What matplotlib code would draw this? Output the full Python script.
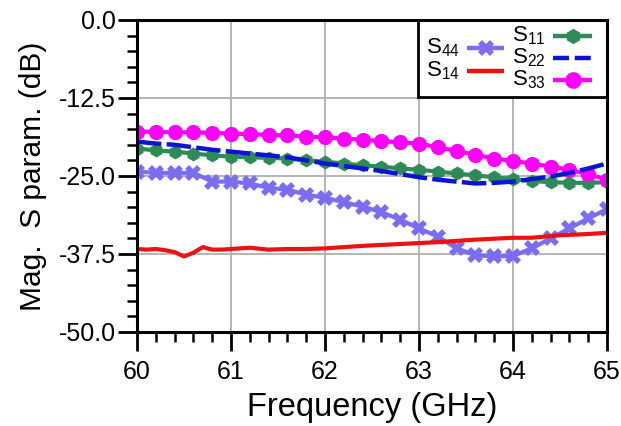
import numpy as np
import matplotlib
matplotlib.use("Agg")
import matplotlib.pyplot as plt
from matplotlib.ticker import MultipleLocator
from matplotlib.patches import Rectangle

plt.rcParams['font.family'] = ['Liberation Sans', 'DejaVu Sans']
plt.rcParams['mathtext.fontset'] = 'custom'
plt.rcParams['mathtext.rm'] = 'Liberation Sans'
plt.rcParams['mathtext.default'] = 'regular'

# frequency grid (GHz) for the marked traces
freq = [60.0, 60.2, 60.4, 60.6, 60.8, 61.0, 61.2, 61.4, 61.6, 61.8,
        62.0, 62.2, 62.4, 62.6, 62.8, 63.0, 63.2, 63.4, 63.6, 63.8,
        64.0, 64.2, 64.4, 64.6, 64.8, 65.0]

s33 = [-17.9, -17.9, -18.0, -18.0, -18.1, -18.2, -18.3, -18.4, -18.5, -18.7,
       -18.8, -19.0, -19.2, -19.4, -19.6, -19.8, -20.4, -21.0, -21.6, -22.2,
       -22.6, -23.0, -23.5, -24.0, -24.7, -25.6]
s22 = [-19.5, -19.8, -20.0, -20.4, -20.8, -21.1, -21.4, -21.7, -22.0, -22.5,
       -23.0, -23.4, -23.8, -24.2, -24.7, -25.2, -25.6, -25.9, -26.2, -26.1,
       -25.9, -25.5, -25.1, -24.5, -23.8, -23.0]
s11 = [-20.6, -20.9, -21.1, -21.4, -21.7, -21.9, -22.0, -22.1, -22.2, -22.5,
       -22.7, -23.0, -23.3, -23.5, -23.8, -24.0, -24.3, -24.6, -24.9, -25.2,
       -25.5, -25.8, -26.0, -26.1, -26.1, -26.0]
s44 = [-24.3, -24.5, -24.5, -24.5, -25.9, -25.9, -26.2, -26.9, -27.2, -28.0,
       -28.5, -29.2, -29.9, -30.8, -32.0, -33.4, -34.7, -36.6, -37.7, -37.9,
       -37.8, -36.6, -35.0, -33.4, -31.8, -30.3]

# S14 has its own (denser) sampling near 60 GHz
freq14 = [60.0, 60.1, 60.2, 60.3, 60.4, 60.5, 60.6, 60.7, 60.8, 60.9,
          61.0, 61.2, 61.4, 61.6, 61.8, 62.0, 62.4, 62.8, 63.2, 63.6,
          64.0, 64.2, 64.5, 64.8, 65.0]
s14 = [-36.7, -36.8, -36.7, -36.9, -37.2, -37.9, -37.3, -36.4, -36.8, -36.8,
       -36.7, -36.5, -36.8, -36.7, -36.7, -36.6, -36.2, -35.9, -35.6, -35.2,
       -34.9, -34.9, -34.5, -34.3, -34.1]

# trace styles: label, colour, marker, marker size, linestyle
styles = {
    's44': ('S$_{44}$', '#7b6cf0', 'X', 11, '-'),
    's14': ('S$_{14}$', '#ee1111', None, 0, '-'),
    's11': ('S$_{11}$', '#2e8b57', 'h', 10, '-'),
    's22': ('S$_{22}$', '#0a14d2', None, 0, (0, (5.5, 1.2))),
    's33': ('S$_{33}$', '#ff00ff', 'o', 11, '-'),
}

fig = plt.figure(figsize=(6.21, 4.26), dpi=100)
ax = fig.add_axes([0.2206, 0.2207, 0.7569, 0.7324])

for key, (fx, fy) in {'s44': (freq, s44), 's14': (freq14, s14),
                      's11': (freq, s11), 's22': (freq, s22),
                      's33': (freq, s33)}.items():
    lab, col, mk, ms, ls = styles[key]
    ax.plot(fx, fy, color=col, lw=3.2 if key == 's22' else 3, ls=ls,
            marker=mk, ms=ms, mew=0, zorder=4 if key == 's22' else 3)

ax.set_xlim(60, 65)
ax.set_ylim(-50, 0)
ax.xaxis.set_major_locator(MultipleLocator(1))
ax.xaxis.set_minor_locator(MultipleLocator(0.2))
ax.yaxis.set_major_locator(MultipleLocator(12.5))
ax.yaxis.set_minor_locator(MultipleLocator(2.5))
ax.yaxis.set_major_formatter(plt.FormatStrFormatter('%.1f'))
ax.tick_params(which='major', direction='out', length=14, width=2,
               labelsize=18, pad=1, top=False, right=False)
ax.tick_params(axis='x', which='major', pad=6)
ax.tick_params(which='minor', direction='out', length=7, width=1.8,
               top=False, right=False)
ax.grid(which='major', color='#b4b4b4', lw=1.4)
for sp in ax.spines.values():
    sp.set_linewidth(2.2)
    sp.set_zorder(6)

ax.set_xlabel('Frequency (GHz)', fontsize=23.5, labelpad=6)
ax.set_ylabel('Mag.  S param. (dB)', fontsize=21.5, labelpad=9)

# legend box in the upper right corner, drawn by hand (2 + 3 entries)
box = Rectangle((0.598, 0.753), 0.402, 0.247, transform=ax.transAxes,
                facecolor='white', edgecolor='black', lw=2, zorder=5,
                clip_on=False)
ax.add_patch(box)


def px(x, y):
    # pixel position inside the figure -> axes fraction
    return (x - 137) / 470, (332 - y) / 312


def legend_row(key, tx, hx0, hx1, y):
    lab, col, mk, ms, ls = styles[key]
    x0, yy = px(hx0, y)
    x1, _ = px(hx1, y)
    if key == 's22':
        ls = (0, (3.6, 1.3))
    ax.plot([x0, x1], [yy, yy], transform=ax.transAxes, color=col, lw=3.2,
            ls=ls, solid_capstyle='butt', clip_on=False, zorder=7)
    if mk:
        ax.plot([(x0 + x1) / 2], [yy], transform=ax.transAxes, color=col,
                marker=mk, ms=ms + 1, mew=0, clip_on=False, zorder=8)
    tx_, _ = px(tx, y)
    ax.text(tx_, yy, lab, transform=ax.transAxes, fontsize=16,
            ha='left', va='center', zorder=8)


legend_row('s44', 426, 467, 504, 48)
legend_row('s14', 426, 467, 504, 71)
legend_row('s11', 512, 553, 592, 36)
legend_row('s22', 512, 553, 592, 58)
legend_row('s33', 512, 553, 592, 80)

fig.savefig('out.png', dpi=100)
